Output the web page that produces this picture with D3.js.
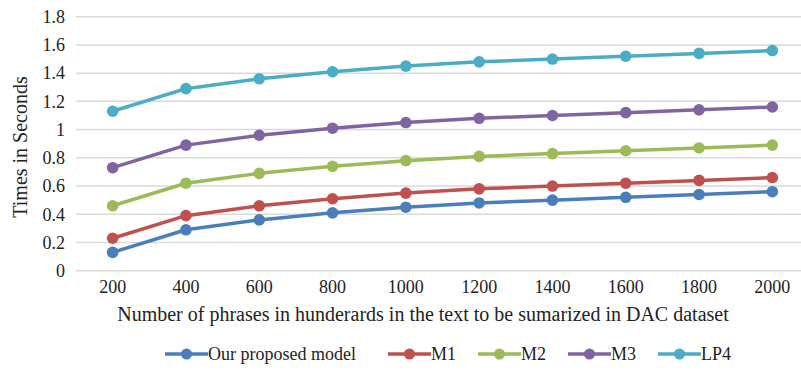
<!DOCTYPE html>
<html>
<head>
<meta charset="utf-8">
<script src="https://cdn.jsdelivr.net/npm/d3@7"></script>
<style>
  html, body { margin: 0; padding: 0; background: #fff; }
  svg { display: block; }
  svg text { font-family: "Liberation Serif", "Times New Roman", serif; fill: #222; }
</style>
</head>
<body>
<svg id="chart" width="801" height="375"></svg>
<script>
// Phrase counts (hundreds) on the x axis
const categories = ["200", "400", "600", "800", "1000", "1200", "1400", "1600", "1800", "2000"];

// Processing time in seconds for each model
const seriesNames = ["Our proposed model", "M1", "M2", "M3", "LP4"];
const ourModel = [0.13, 0.29, 0.36, 0.41, 0.45, 0.48, 0.50, 0.52, 0.54, 0.56];
const m1       = [0.23, 0.39, 0.46, 0.51, 0.55, 0.58, 0.60, 0.62, 0.64, 0.66];
const m2       = [0.46, 0.62, 0.69, 0.74, 0.78, 0.81, 0.83, 0.85, 0.87, 0.89];
const m3       = [0.73, 0.89, 0.96, 1.01, 1.05, 1.08, 1.10, 1.12, 1.14, 1.16];
const lp4      = [1.13, 1.29, 1.36, 1.41, 1.45, 1.48, 1.50, 1.52, 1.54, 1.56];

const yTicks = [0, 0.2, 0.4, 0.6, 0.8, 1, 1.2, 1.4, 1.6, 1.8];
const colors = ["#4a7ebb", "#c0504d", "#9bbb59", "#8064a2", "#4bacc6"];

const series = seriesNames.map((name, i) => ({
  name,
  color: colors[i],
  values: [ourModel, m1, m2, m3, lp4][i]
}));

const svg = d3.select("#chart");
const plot = { left: 76, right: 809, top: 16.7, bottom: 270.7 };

const x = d3.scaleBand().domain(categories).range([plot.left, plot.right]);
const y = d3.scaleLinear().domain([0, 1.8]).range([plot.bottom, plot.top]);
const cx = c => x(c) + x.bandwidth() / 2;

// Horizontal gridlines
svg.append("g")
  .selectAll("line")
  .data(yTicks)
  .join("line")
  .attr("x1", plot.left).attr("x2", plot.right)
  .attr("y1", d => y(d)).attr("y2", d => y(d))
  .attr("stroke", "#d9d9d9").attr("stroke-width", 1.5);

// Y axis labels
const yAxis = d3.axisLeft(y).tickValues(yTicks).tickFormat(d3.format("~g")).tickSize(0).tickPadding(11);
const gy = svg.append("g").attr("transform", `translate(${plot.left},0)`).call(yAxis);
gy.select(".domain").remove();
gy.attr("font-family", "Liberation Serif, serif").attr("font-size", 18);
gy.selectAll("text").style("fill", "#222");

// X axis labels
const xAxis = d3.axisBottom(x).tickSize(0).tickPadding(10);
const gx = svg.append("g").attr("transform", `translate(0,${plot.bottom})`).call(xAxis);
gx.select(".domain").remove();
gx.attr("font-family", "Liberation Serif, serif").attr("font-size", 18);
gx.selectAll("text").style("fill", "#222");

// Axis titles
svg.append("text")
  .attr("transform", "translate(27,147) rotate(-90)")
  .attr("text-anchor", "middle")
  .attr("font-size", 20)
  .text("Times in Seconds");

svg.append("text")
  .attr("x", 423).attr("y", 321)
  .attr("text-anchor", "middle")
  .attr("font-size", 20)
  .text("Number of phrases in hunderards in the text to be sumarized in DAC dataset");

// Lines and markers
const line = d3.line().x((d, i) => cx(categories[i])).y(d => y(d));
const gs = svg.append("g").selectAll("g").data(series).join("g");
gs.append("path")
  .attr("d", d => line(d.values))
  .attr("fill", "none")
  .attr("stroke", d => d.color)
  .attr("stroke-width", 3.5)
  .attr("stroke-linejoin", "round");
gs.selectAll("circle")
  .data(d => d.values.map((v, i) => ({ v, i, color: d.color })))
  .join("circle")
  .attr("cx", d => cx(categories[d.i]))
  .attr("cy", d => y(d.v))
  .attr("r", 5.8)
  .attr("fill", d => d.color);

// Legend: each entry is a line-with-marker swatch followed by its label
const legend = svg.append("g");
let lx = 165;
const ly = 354;
series.forEach((s, i) => {
  const g = legend.append("g");
  g.append("line")
    .attr("x1", lx).attr("x2", lx + 43)
    .attr("y1", ly).attr("y2", ly)
    .attr("stroke", s.color).attr("stroke-width", 3.5);
  g.append("circle")
    .attr("cx", lx + 21.5).attr("cy", ly).attr("r", 5.5)
    .attr("fill", s.color);
  const t = g.append("text")
    .attr("x", lx + 43).attr("y", ly + 6)
    .attr("font-size", 18)
    .text(s.name);
  lx += 43 + t.node().getComputedTextLength() + (i === 0 ? 32 : 22);
});
</script>
</body>
</html>
